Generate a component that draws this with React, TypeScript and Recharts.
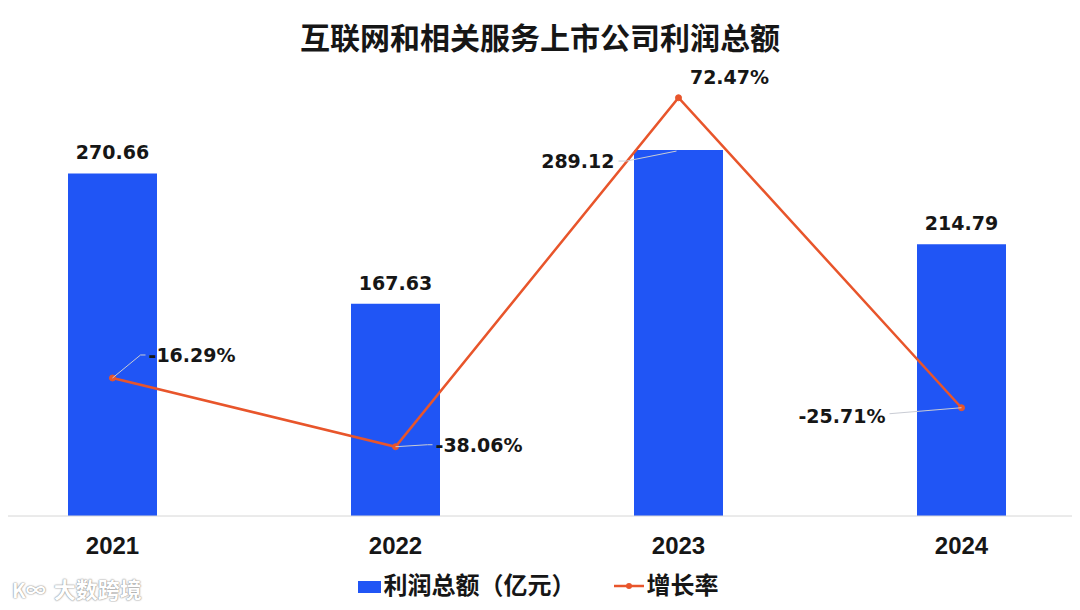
import { Bar, ComposedChart, LabelList, Line, XAxis, YAxis } from "recharts";

const years = ["2021", "2022", "2023", "2024"];
const profit = [270.66, 167.63, 289.12, 214.79];
const growth = [-16.29, -38.06, 72.47, -25.71];

const data = years.map((year, i) => ({ year, profit: profit[i], growth: growth[i] }));

const BLUE = "#2055f5";
const ORANGE = "#e8552b";
const LEADER = "#c9ccd4";
const INK = "#161616";
const labelFont = "'DejaVu Sans', sans-serif";

// label placement relative to the bar top / point (dx, dy, anchor, leader?)
const barLabelPos = [
  { dx: 0, dy: -21, anchor: "middle", leader: false },
  { dx: 0, dy: -21, anchor: "middle", leader: false },
  { dx: -64, dy: 11, anchor: "end", leader: true },
  { dx: 0, dy: -21, anchor: "middle", leader: false },
];
const lineLabelPos = [
  { dx: 36, dy: -23, anchor: "start", leader: true },
  { dx: 40, dy: -2, anchor: "start", leader: true },
  { dx: 51, dy: -21, anchor: "middle", leader: false },
  { dx: -76, dy: 8, anchor: "end", leader: true },
];

const BarValueLabel = (props: any) => {
  const { x, y, width, index, value } = props;
  const cx = x + width / 2;
  const p = barLabelPos[index];
  const tx = cx + p.dx;
  const ty = y + p.dy;
  return (
    <g>
      {p.leader && (
        <polyline
          points={`${tx + 4},${ty} ${tx + 12},${ty} ${cx - 2},${y + 1}`}
          fill="none"
          stroke={LEADER}
          strokeWidth={1}
        />
      )}
      <text
        x={tx}
        y={ty}
        textAnchor={p.anchor}
        dominantBaseline="central"
        fontFamily={labelFont}
        fontWeight="bold"
        fontSize={19}
        fill={INK}
      >
        {value.toFixed(2)}
      </text>
    </g>
  );
};

const GrowthLabel = (props: any) => {
  const { x, y, index, value } = props;
  const p = lineLabelPos[index];
  const tx = x + p.dx;
  const ty = y + p.dy;
  let leader = null;
  if (p.leader) {
    if (p.anchor === "start") {
      leader = `${x},${y} ${tx - 8},${ty} ${tx - 3},${ty}`;
    } else {
      leader = `${x},${y} ${tx + 4},${ty - 2}`;
    }
  }
  return (
    <g>
      {leader && <polyline points={leader} fill="none" stroke={LEADER} strokeWidth={1} />}
      <text
        x={tx}
        y={ty}
        textAnchor={p.anchor}
        dominantBaseline="central"
        fontFamily={labelFont}
        fontWeight="bold"
        fontSize={19}
        fill={INK}
      >
        {value.toFixed(2)}%
      </text>
    </g>
  );
};

const YearTick = (props: any) => {
  const { x, y, payload } = props;
  return (
    <text
      x={x}
      y={y}
      dy={21}
      textAnchor="middle"
      dominantBaseline="central"
      fontFamily="'Liberation Sans', Arial, sans-serif"
      fontWeight="bold"
      fontSize={24}
      fill={INK}
    >
      {payload.value}
    </text>
  );
};

export default function App() {
  return (
    <div
      style={{
        position: "relative",
        width: 1080,
        height: 610,
        margin: -8,
        overflow: "hidden",
        background: "#fff",
        fontFamily: "'Noto Sans CJK SC', sans-serif",
      }}
    >
      <div
        style={{
          position: "absolute",
          top: 16,
          left: 0,
          width: 1080,
          textAlign: "center",
          fontSize: 30,
          fontWeight: 700,
          color: INK,
          lineHeight: "40px",
        }}
      >
        互联网和相关服务上市公司利润总额
      </div>

      {/* the plot runs a little past both page edges, as in the source picture */}
      <ComposedChart
        width={1132}
        height={610}
        data={data}
        margin={{ top: 73, right: 0, left: 0, bottom: 54 }}
        style={{ position: "absolute", left: -29, top: 0 }}
      >
        <XAxis
          dataKey="year"
          height={40}
          tickLine={false}
          axisLine={{ stroke: "#d6d6d6", strokeWidth: 1 }}
          tick={<YearTick />}
          interval={0}
        />
        <YAxis yAxisId="left" hide domain={[0, 350]} />
        <YAxis yAxisId="right" orientation="right" hide domain={[-60, 80.3]} />
        <Bar yAxisId="left" dataKey="profit" fill={BLUE} barSize={89} isAnimationActive={false}>
          <LabelList dataKey="profit" content={<BarValueLabel />} />
        </Bar>
        <Line
          yAxisId="right"
          dataKey="growth"
          type="linear"
          stroke={ORANGE}
          strokeWidth={2.5}
          dot={{ r: 3, fill: ORANGE, stroke: ORANGE, strokeWidth: 1 }}
          activeDot={false}
          isAnimationActive={false}
        >
          <LabelList dataKey="growth" content={<GrowthLabel />} />
        </Line>
      </ComposedChart>

      <div
        style={{
          position: "absolute",
          top: 568,
          left: 0,
          width: 1080,
          display: "flex",
          justifyContent: "center",
          alignItems: "center",
          fontSize: 24,
          fontWeight: 700,
          color: INK,
          lineHeight: "32px",
          paddingRight: 4,
          boxSizing: "border-box",
        }}
      >
        <span style={{ display: "inline-block", width: 23, height: 12, background: BLUE, marginRight: 3, marginTop: 6 }} />
        <span>利润总额（亿元）</span>
        <span style={{ display: "inline-block", width: 38 }} />
        <svg width={30} height={12} style={{ marginRight: 3, marginTop: 4 }}>
          <line x1={0} y1={6} x2={30} y2={6} stroke={ORANGE} strokeWidth={2.5} />
          <circle cx={15} cy={6} r={3} fill={ORANGE} />
        </svg>
        <span>增长率</span>
      </div>

      <div
        style={{
          position: "absolute",
          left: 12,
          top: 572,
          fontSize: 22,
          fontWeight: 700,
          color: "#fff",
          textShadow: "0 0 2px #8a8a8a, 0 0 1px #8a8a8a",
          whiteSpace: "nowrap",
        }}
      >
        <span style={{ fontSize: 20, marginRight: 8 }}>K∞</span>大数跨境
      </div>
    </div>
  );
}
